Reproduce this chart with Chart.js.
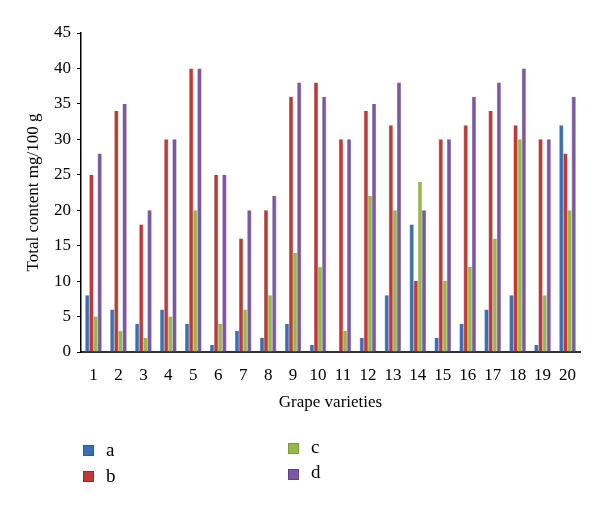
<!DOCTYPE html>
<html>
<head>
<meta charset="utf-8">
<script src="https://cdn.jsdelivr.net/npm/chart.js@4/dist/chart.umd.min.js"></script>
<style>
  html, body { margin: 0; padding: 0; background: #fff; }
  #wrap { position: relative; width: 600px; height: 510px; }
  canvas { position: absolute; left: 0; top: 0; }
  .lg { position: absolute; font-family: "Liberation Serif", "DejaVu Serif", serif; font-size: 19px; color: #000; line-height: 20px; }
  .sw { position: absolute; width: 11px; height: 11px; box-sizing: border-box; }
</style>
</head>
<body>
<div id="wrap">
  <canvas id="c" width="600" height="510"></canvas>
</div>
<script>
const categories = ["1","2","3","4","5","6","7","8","9","10","11","12","13","14","15","16","17","18","19","20"];
const seriesA = [8, 6, 4, 6, 4, 1, 3, 2, 4, 1, 0, 2, 8, 18, 2, 4, 6, 8, 1, 32];
const seriesB = [25, 34, 18, 30, 40, 25, 16, 20, 36, 38, 30, 34, 32, 10, 30, 32, 34, 32, 30, 28];
const seriesC = [5, 3, 2, 5, 20, 4, 6, 8, 14, 12, 3, 22, 20, 24, 10, 12, 16, 30, 8, 20];
const seriesD = [28, 35, 20, 30, 40, 25, 20, 22, 38, 36, 30, 35, 38, 20, 30, 36, 38, 40, 30, 36];
const seriesNames = ["a", "b", "c", "d"];
const seriesColors = ["#3a6fb5", "#bd3a37", "#96b94a", "#7a58a5"];
const seriesBorders = ["#2c5a96", "#9a2a28", "#79983a", "#5f4387"];
const yTitle = "Total content mg/100 g";
const xTitle = "Grape varieties";

const FONT = "'Liberation Serif', 'DejaVu Serif', serif";
const allValues = [seriesA, seriesB, seriesC, seriesD];

const datasets = allValues.map((vals, i) => ({
  label: seriesNames[i],
  data: vals,
  backgroundColor: seriesColors[i],
  borderColor: seriesBorders[i],
  borderWidth: {left: 0.5, right: 0.5, top: 0, bottom: 0},
  barPercentage: 1.0,
  categoryPercentage: 0.66
}));

new Chart(document.getElementById('c'), {
  type: 'bar',
  data: { labels: categories, datasets: datasets },
  options: {
    responsive: false,
    animation: false,
    layout: { padding: { left: 0, right: 20, top: 33, bottom: 96 } },
    plugins: { legend: { display: false }, tooltip: { enabled: false } },
    scales: {
      x: {
        grid: { display: false },
        border: { display: true, color: '#333', width: 2 },
        ticks: { color: '#000', font: { family: FONT, size: 17 }, padding: 5, maxRotation: 0, autoSkip: false },
        title: { display: true, text: xTitle, color: '#000', font: { family: FONT, size: 17 }, padding: { top: 4, bottom: 1 } },
        afterFit: (s) => { s.height = 62; }
      },
      y: {
        min: 0, max: 45,
        ticks: { stepSize: 5, color: '#000', font: { family: FONT, size: 17 }, padding: 6 },
        grid: { display: true, drawOnChartArea: false, drawTicks: true, tickLength: 4, color: '#000' },
        border: { display: true, color: '#000', width: 1.5 },
        title: { display: true, text: yTitle, color: '#000', font: { family: FONT, size: 17 }, padding: { top: 23, bottom: 0 } },
        afterFit: (s) => { s.width = 81; }
      }
    }
  }
});

// Legend (two columns, column-major like the reference)
const legendPos = [
  { sx: 83, sy: 445, tx: 106, ty: 440 },
  { sx: 83, sy: 471, tx: 106, ty: 466 },
  { sx: 288, sy: 443, tx: 311, ty: 437 },
  { sx: 288, sy: 469, tx: 311, ty: 462 }
];
const wrap = document.getElementById('wrap');
seriesNames.forEach((n, i) => {
  const p = legendPos[i];
  const sw = document.createElement('div');
  sw.className = 'sw';
  sw.style.left = p.sx + 'px';
  sw.style.top = p.sy + 'px';
  sw.style.background = seriesColors[i];
  sw.style.border = '1px solid ' + seriesBorders[i];
  wrap.appendChild(sw);
  const t = document.createElement('div');
  t.className = 'lg';
  t.style.left = p.tx + 'px';
  t.style.top = p.ty + 'px';
  t.textContent = n;
  wrap.appendChild(t);
});
</script>
</body>
</html>
